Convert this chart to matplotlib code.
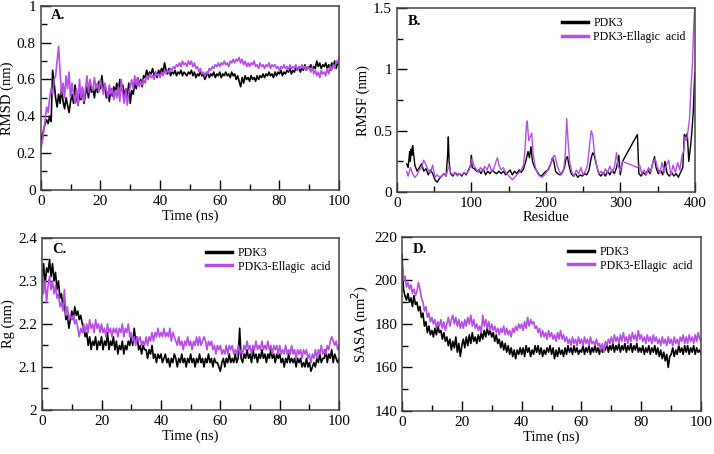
import numpy as np
import matplotlib
matplotlib.use('Agg')
import matplotlib.pyplot as plt
from matplotlib.ticker import MultipleLocator, FormatStrFormatter

plt.rcParams['font.family'] = ['Liberation Serif', 'DejaVu Serif']

# tiempo de simulacion (ns), paso de 0.5 ns
tiempo = np.arange(0, 100.5, 0.5)

rmsd_apo = [
    0.30, 0.27, 0.33, 0.36, 0.38, 0.36, 0.40, 0.37, 0.65, 0.58,
    0.50, 0.45, 0.52, 0.47, 0.55, 0.48, 0.44, 0.50, 0.46, 0.42,
    0.48, 0.52, 0.47, 0.57, 0.50, 0.46, 0.52, 0.49, 0.55, 0.47,
    0.52, 0.56, 0.50, 0.58, 0.53, 0.55, 0.50, 0.57, 0.53, 0.59,
    0.55, 0.62, 0.54, 0.57, 0.50, 0.53, 0.48, 0.55, 0.51, 0.56,
    0.53, 0.58, 0.52, 0.60, 0.54, 0.57, 0.51, 0.55, 0.50, 0.58,
    0.47, 0.54, 0.52, 0.58, 0.55, 0.61, 0.57, 0.60, 0.56, 0.62,
    0.61, 0.65, 0.62, 0.64, 0.63, 0.66, 0.62, 0.64, 0.61, 0.65,
    0.63, 0.66, 0.64, 0.69, 0.65, 0.63, 0.66, 0.62, 0.64, 0.63,
    0.65, 0.62, 0.64, 0.63, 0.65, 0.62, 0.64, 0.63, 0.62, 0.64,
    0.63, 0.65, 0.62, 0.64, 0.61, 0.63, 0.62, 0.64, 0.62, 0.63,
    0.60, 0.62, 0.64, 0.61, 0.63, 0.62, 0.64, 0.61, 0.63, 0.62,
    0.64, 0.61, 0.63, 0.62, 0.64, 0.62, 0.63, 0.61, 0.64, 0.62,
    0.63, 0.60, 0.62, 0.59, 0.56, 0.61, 0.58, 0.62, 0.60, 0.61,
    0.59, 0.62, 0.60, 0.61, 0.59, 0.62, 0.60, 0.62, 0.61, 0.63,
    0.61, 0.63, 0.62, 0.64, 0.62, 0.63, 0.61, 0.64, 0.62, 0.64,
    0.63, 0.65, 0.62, 0.64, 0.63, 0.65, 0.64, 0.66, 0.63, 0.65,
    0.64, 0.66, 0.65, 0.67, 0.64, 0.66, 0.65, 0.68, 0.65, 0.67,
    0.66, 0.68, 0.65, 0.67, 0.66, 0.70, 0.67, 0.69, 0.66, 0.68,
    0.67, 0.69, 0.66, 0.68, 0.65, 0.69, 0.67, 0.70, 0.66, 0.69,
    0.68]

rmsd_lig = [
    0.22, 0.26, 0.32, 0.38, 0.45, 0.42, 0.50, 0.55, 0.52, 0.60,
    0.62, 0.70, 0.78, 0.64, 0.52, 0.58, 0.50, 0.62, 0.55, 0.64,
    0.50, 0.58, 0.52, 0.47, 0.55, 0.46, 0.60, 0.50, 0.56, 0.48,
    0.55, 0.62, 0.53, 0.60, 0.56, 0.54, 0.61, 0.55, 0.58, 0.53,
    0.60, 0.56, 0.52, 0.58, 0.54, 0.50, 0.57, 0.52, 0.55, 0.49,
    0.54, 0.50, 0.56, 0.48, 0.60, 0.52, 0.47, 0.55, 0.46, 0.53,
    0.56, 0.60, 0.55, 0.62, 0.57, 0.61, 0.56, 0.59, 0.57, 0.60,
    0.58, 0.62, 0.60, 0.63, 0.61, 0.62, 0.60, 0.64, 0.62, 0.63,
    0.61, 0.64, 0.62, 0.65, 0.63, 0.65, 0.64, 0.66, 0.65, 0.67,
    0.66, 0.68, 0.67, 0.69, 0.67, 0.70, 0.68, 0.69, 0.67, 0.70,
    0.68, 0.70, 0.67, 0.69, 0.66, 0.67, 0.64, 0.66, 0.63, 0.64,
    0.62, 0.64, 0.63, 0.66, 0.65, 0.67, 0.66, 0.68, 0.67, 0.69,
    0.67, 0.69, 0.68, 0.70, 0.68, 0.69, 0.67, 0.70, 0.69, 0.71,
    0.69, 0.71, 0.70, 0.72, 0.69, 0.71, 0.68, 0.70, 0.67, 0.69,
    0.67, 0.69, 0.68, 0.70, 0.67, 0.68, 0.66, 0.69, 0.67, 0.68,
    0.66, 0.68, 0.67, 0.69, 0.66, 0.68, 0.67, 0.68, 0.66, 0.67,
    0.65, 0.67, 0.66, 0.68, 0.66, 0.67, 0.65, 0.68, 0.66, 0.67,
    0.66, 0.68, 0.65, 0.67, 0.66, 0.68, 0.66, 0.67, 0.65, 0.67,
    0.66, 0.64, 0.67, 0.63, 0.65, 0.62, 0.64, 0.61, 0.65, 0.63,
    0.64, 0.62, 0.66, 0.63, 0.67, 0.65, 0.68, 0.66, 0.70, 0.69,
    0.72]

rg_apo = [
    2.30, 2.34, 2.29, 2.33, 2.32, 2.35, 2.31, 2.34, 2.30, 2.32,
    2.28, 2.30, 2.26, 2.27, 2.24, 2.25, 2.21, 2.22, 2.19, 2.21,
    2.23, 2.21, 2.24, 2.22, 2.23, 2.21, 2.22, 2.20, 2.19, 2.17,
    2.18, 2.15, 2.17, 2.14, 2.16, 2.15, 2.17, 2.14, 2.16, 2.15,
    2.17, 2.14, 2.16, 2.15, 2.18, 2.14, 2.16, 2.15, 2.17, 2.14,
    2.16, 2.13, 2.15, 2.14, 2.16, 2.13, 2.15, 2.14, 2.16, 2.15,
    2.17, 2.15, 2.19, 2.16, 2.17, 2.14, 2.15, 2.13, 2.15, 2.14,
    2.14, 2.12, 2.14, 2.13, 2.15, 2.12, 2.13, 2.11, 2.13, 2.12,
    2.13, 2.11, 2.12, 2.13, 2.11, 2.12, 2.10, 2.12, 2.11, 2.13,
    2.12, 2.10, 2.12, 2.11, 2.13, 2.11, 2.12, 2.10, 2.12, 2.11,
    2.13, 2.11, 2.12, 2.10, 2.12, 2.11, 2.13, 2.11, 2.12, 2.10,
    2.12, 2.11, 2.13, 2.11, 2.12, 2.10, 2.12, 2.11, 2.11, 2.10,
    2.09, 2.11, 2.12, 2.10, 2.12, 2.11, 2.13, 2.11, 2.12, 2.11,
    2.13, 2.11, 2.12, 2.19, 2.12, 2.11, 2.13, 2.12, 2.14, 2.12,
    2.13, 2.11, 2.14, 2.12, 2.13, 2.11, 2.13, 2.12, 2.14, 2.12,
    2.13, 2.11, 2.13, 2.12, 2.14, 2.12, 2.13, 2.11, 2.13, 2.12,
    2.13, 2.11, 2.12, 2.10, 2.12, 2.11, 2.13, 2.11, 2.12, 2.11,
    2.12, 2.10, 2.12, 2.11, 2.12, 2.10, 2.11, 2.10, 2.12, 2.10,
    2.11, 2.09, 2.10, 2.11, 2.10, 2.12, 2.11, 2.13, 2.11, 2.12,
    2.12, 2.14, 2.11, 2.13, 2.12, 2.14, 2.11, 2.13, 2.12, 2.11,
    2.12]

rg_lig = [
    2.33, 2.27, 2.30, 2.25, 2.29, 2.31, 2.28, 2.30, 2.27, 2.29,
    2.26, 2.27, 2.24, 2.25, 2.23, 2.28, 2.22, 2.24, 2.21, 2.22,
    2.21, 2.22, 2.20, 2.21, 2.19, 2.17, 2.19, 2.18, 2.20, 2.18,
    2.20, 2.18, 2.21, 2.19, 2.20, 2.18, 2.21, 2.19, 2.20, 2.18,
    2.20, 2.18, 2.19, 2.17, 2.20, 2.18, 2.19, 2.17, 2.19, 2.18,
    2.19, 2.17, 2.19, 2.18, 2.20, 2.17, 2.19, 2.18, 2.20, 2.17,
    2.18, 2.16, 2.17, 2.15, 2.17, 2.16, 2.17, 2.15, 2.16, 2.15,
    2.17, 2.15, 2.17, 2.16, 2.18, 2.16, 2.18, 2.17, 2.19, 2.17,
    2.18, 2.17, 2.19, 2.17, 2.18, 2.17, 2.19, 2.16, 2.18, 2.17,
    2.16, 2.15, 2.17, 2.15, 2.16, 2.14, 2.16, 2.15, 2.17, 2.15,
    2.16, 2.14, 2.16, 2.15, 2.17, 2.15, 2.17, 2.15, 2.16, 2.17,
    2.16, 2.14, 2.16, 2.15, 2.16, 2.14, 2.15, 2.13, 2.15, 2.14,
    2.15, 2.13, 2.14, 2.13, 2.15, 2.13, 2.15, 2.14, 2.15, 2.13,
    2.14, 2.13, 2.15, 2.13, 2.14, 2.13, 2.15, 2.14, 2.16, 2.14,
    2.15, 2.13, 2.15, 2.14, 2.16, 2.14, 2.15, 2.14, 2.16, 2.14,
    2.15, 2.14, 2.16, 2.14, 2.15, 2.13, 2.15, 2.14, 2.15, 2.13,
    2.15, 2.13, 2.14, 2.13, 2.15, 2.13, 2.14, 2.13, 2.15, 2.13,
    2.14, 2.12, 2.14, 2.13, 2.14, 2.12, 2.14, 2.13, 2.14, 2.12,
    2.13, 2.11, 2.13, 2.12, 2.14, 2.12, 2.14, 2.13, 2.15, 2.13,
    2.14, 2.13, 2.15, 2.14, 2.16, 2.17, 2.16, 2.15, 2.16, 2.14,
    2.15]

sasa_apo = [
    212, 196, 193, 191, 194, 190, 192, 188, 193, 189,
    190, 186, 188, 183, 185, 179, 181, 176, 179, 175,
    177, 174, 178, 175, 179, 176, 177, 173, 176, 172,
    174, 170, 173, 168, 172, 169, 174, 167, 171, 165,
    170, 173, 169, 174, 170, 175, 171, 176, 172, 174,
    171, 175, 172, 176, 173, 177, 174, 178, 175, 177,
    174, 176, 172, 175, 171, 173, 169, 172, 168, 171,
    167, 170, 166, 169, 165, 168, 164, 168, 166, 169,
    166, 169, 165, 170, 167, 169, 165, 168, 166, 170,
    167, 170, 166, 169, 165, 168, 166, 169, 167, 170,
    166, 169, 164, 168, 165, 169, 166, 168, 165, 169,
    166, 170, 167, 169, 166, 170, 167, 169, 166, 168,
    167, 170, 166, 169, 167, 170, 166, 169, 167, 170,
    167, 169, 166, 170, 167, 169, 168, 171, 167, 170,
    168, 171, 167, 170, 168, 171, 167, 170, 168, 171,
    167, 170, 168, 171, 167, 170, 168, 171, 167, 169,
    167, 170, 166, 169, 167, 170, 166, 169, 167, 170,
    166, 169, 165, 168, 164, 167, 163, 166, 160, 165,
    166, 169, 165, 168, 166, 170, 167, 169, 166, 170,
    167, 170, 166, 169, 167, 170, 166, 169, 167, 168,
    166]

sasa_lig = [
    208, 200, 202, 197, 199, 196, 198, 194, 196, 193,
    195, 199, 196, 192, 190, 186, 188, 183, 185, 181,
    183, 180, 182, 178, 181, 179, 182, 178, 181, 177,
    180, 183, 179, 182, 184, 180, 183, 179, 182, 178,
    181, 178, 182, 179, 183, 180, 184, 179, 182, 178,
    180, 177, 179, 176, 184, 179, 182, 178, 181, 177,
    180, 177, 179, 176, 178, 175, 178, 176, 179, 175,
    178, 175, 177, 174, 178, 176, 179, 177, 180, 178,
    180, 177, 181, 178, 183, 179, 182, 180, 181, 178,
    179, 176, 178, 174, 177, 174, 176, 173, 177, 174,
    176, 173, 175, 172, 176, 173, 177, 173, 175, 172,
    174, 171, 173, 170, 174, 171, 173, 170, 174, 171,
    173, 170, 174, 171, 173, 170, 174, 171, 172, 170,
    173, 170, 171, 168, 171, 167, 172, 170, 173, 171,
    174, 171, 175, 172, 174, 171, 175, 172, 176, 172,
    174, 171, 175, 172, 176, 173, 175, 172, 177, 173,
    175, 172, 174, 171, 175, 172, 174, 171, 175, 172,
    174, 171, 173, 170, 174, 171, 173, 170, 174, 171,
    173, 170, 174, 171, 173, 170, 174, 172, 175, 171,
    174, 171, 175, 172, 174, 171, 175, 172, 176, 173,
    172]

# RMSF por residuo
res_apo = [13, 15, 17, 18, 19, 20, 21, 22, 24, 27,
           30, 33, 36, 39, 42, 45, 48, 51, 54, 57,
           60, 63, 66, 68, 69, 70, 72, 75, 78, 81,
           84, 87, 90, 93, 96, 99, 100, 101, 104, 107,
           110, 113, 116, 119, 122, 125, 128, 131, 134, 137,
           140, 143, 146, 149, 152, 155, 158, 161, 164, 167,
           170, 173, 176, 178, 180, 182, 185, 188, 191, 194,
           197, 200, 203, 206, 209, 211, 213, 216, 219, 222,
           225, 227, 229, 231, 234, 237, 240, 243, 246, 249,
           252, 255, 258, 261, 263, 265, 268, 271, 274, 277,
           280, 283, 286, 289, 292, 295, 298, 300, 303, 323,
           325, 328, 331, 334, 337, 340, 343, 346, 348, 351,
           354, 357, 360, 363, 366, 369, 372, 375, 378, 381,
           384, 386, 388, 390, 392, 394, 396, 398, 400]
rmsf_apo = [0.23, 0.20, 0.33, 0.25, 0.35, 0.30, 0.38, 0.33, 0.22, 0.17,
            0.20, 0.23, 0.17, 0.19, 0.14, 0.18, 0.15, 0.10, 0.08, 0.11,
            0.13, 0.15, 0.13, 0.30, 0.45, 0.25, 0.15, 0.13, 0.16, 0.14,
            0.15, 0.13, 0.16, 0.14, 0.18, 0.22, 0.30, 0.20, 0.19, 0.17,
            0.18, 0.15, 0.19, 0.14, 0.17, 0.15, 0.18, 0.16, 0.15, 0.17,
            0.15, 0.17, 0.14, 0.16, 0.18, 0.14, 0.17, 0.15, 0.18, 0.16,
            0.19, 0.25, 0.33, 0.28, 0.37, 0.25, 0.20, 0.17, 0.14, 0.13,
            0.15, 0.17, 0.18, 0.22, 0.28, 0.24, 0.17, 0.15, 0.14, 0.16,
            0.20, 0.27, 0.29, 0.22, 0.15, 0.13, 0.15, 0.12, 0.14, 0.13,
            0.15, 0.14, 0.18, 0.28, 0.32, 0.30, 0.22, 0.15, 0.13, 0.16,
            0.13, 0.17, 0.14, 0.18, 0.15, 0.20, 0.30, 0.14, 0.25, 0.47,
            0.15, 0.13, 0.16, 0.14, 0.18, 0.15, 0.22, 0.29, 0.20, 0.15,
            0.18, 0.14, 0.25, 0.15, 0.13, 0.16, 0.13, 0.15, 0.12, 0.16,
            0.20, 0.47, 0.45, 0.48, 0.25, 0.35, 0.48, 0.65, 0.97]

res_lig = [13, 15, 18, 21, 24, 27, 30, 33, 36, 39,
           42, 45, 48, 51, 54, 57, 60, 63, 66, 68,
           70, 72, 75, 78, 81, 84, 87, 90, 93, 96,
           99, 101, 103, 106, 109, 112, 115, 118, 121, 124,
           127, 130, 133, 135, 137, 140, 143, 146, 149, 152,
           155, 158, 161, 164, 167, 170, 172, 174, 175, 177,
           179, 181, 183, 186, 189, 192, 195, 198, 201, 204,
           207, 210, 212, 215, 218, 221, 224, 226, 228, 230,
           232, 235, 238, 241, 244, 247, 250, 253, 256, 259,
           261, 263, 265, 268, 271, 274, 277, 280, 283, 286,
           289, 292, 295, 297, 300, 303, 323, 326, 329, 332,
           335, 338, 341, 344, 347, 350, 353, 356, 359, 362,
           365, 368, 371, 374, 377, 380, 383, 385, 387, 389,
           391, 393, 395, 397, 398, 399, 400]
rmsf_lig = [0.17, 0.13, 0.20, 0.15, 0.12, 0.14, 0.18, 0.20, 0.26, 0.22,
            0.18, 0.16, 0.22, 0.12, 0.14, 0.12, 0.13, 0.15, 0.13, 0.18,
            0.21, 0.16, 0.14, 0.16, 0.13, 0.15, 0.14, 0.16, 0.15, 0.17,
            0.22, 0.27, 0.22, 0.19, 0.16, 0.20, 0.17, 0.21, 0.18, 0.23,
            0.17, 0.19, 0.25, 0.28, 0.22, 0.18, 0.20, 0.16, 0.14, 0.12,
            0.10, 0.12, 0.14, 0.16, 0.18, 0.22, 0.35, 0.55, 0.58, 0.42,
            0.45, 0.48, 0.30, 0.20, 0.15, 0.13, 0.12, 0.14, 0.16, 0.20,
            0.24, 0.29, 0.30, 0.22, 0.17, 0.14, 0.18, 0.30, 0.60, 0.40,
            0.25, 0.16, 0.13, 0.18, 0.15, 0.20, 0.14, 0.17, 0.22, 0.40,
            0.50, 0.46, 0.33, 0.22, 0.15, 0.17, 0.14, 0.19, 0.16, 0.21,
            0.16, 0.20, 0.32, 0.22, 0.17, 0.25, 0.20, 0.22, 0.15, 0.18,
            0.14, 0.20, 0.16, 0.25, 0.27, 0.20, 0.15, 0.24, 0.16, 0.22,
            0.26, 0.14, 0.22, 0.16, 0.24, 0.18, 0.30, 0.33, 0.45, 0.42,
            0.50, 0.60, 0.85, 1.05, 1.25, 1.40, 1.50]

NEGRO = '#000000'
MORADO = '#b54ee6'
etiquetas = ['PDK3', 'PDK3-Ellagic  acid']


def formato_ejes(ax, xlim, xmaj, xmin, ylim, ymaj, ymin, yfmt):
    ax.set_xlim(*xlim)
    ax.set_ylim(*ylim)
    ax.xaxis.set_major_locator(MultipleLocator(xmaj))
    ax.xaxis.set_minor_locator(MultipleLocator(xmin))
    ax.yaxis.set_major_locator(MultipleLocator(ymaj))
    ax.yaxis.set_minor_locator(MultipleLocator(ymin))
    ax.yaxis.set_major_formatter(FormatStrFormatter(yfmt))
    ax.tick_params(which='both', direction='in', top=False, right=False, labelsize=11)
    ax.tick_params(which='major', length=7, width=1)
    ax.tick_params(which='minor', length=4, width=1)
    for s in ax.spines.values():
        s.set_color('#444444')
        s.set_linewidth(1.1)


def leyenda(ax):
    ax.legend(etiquetas, loc='upper right', frameon=False, fontsize=8.5,
              handlelength=2.2, borderaxespad=0.35, labelspacing=0.15,
              handletextpad=0.5)
    for h in ax.get_legend().get_lines():
        h.set_linewidth(2.5)


fig = plt.figure(figsize=(7.14, 4.54), dpi=100)
ETQ = 10.5

# A. RMSD
axA = fig.add_axes([0.057, 0.582, 0.418, 0.405])
axA.plot(tiempo, rmsd_apo, color=NEGRO, lw=1.2)
axA.plot(tiempo, rmsd_lig, color=MORADO, lw=1.2)
formato_ejes(axA, (0, 100), 20, 10, (0, 1), 0.2, 0.1, '%g')
axA.set_xlabel('Time (ns)', fontsize=ETQ, labelpad=1)
axA.set_ylabel('RMSD (nm)', fontsize=ETQ, labelpad=2)
axA.text(0.035, 0.93, 'A.', transform=axA.transAxes, fontsize=10.5, fontweight='bold')

# B. RMSF
axB = fig.add_axes([0.556, 0.577, 0.417, 0.405])
axB.plot(res_apo, rmsf_apo, color=NEGRO, lw=1.0)
axB.plot(res_lig, rmsf_lig, color=MORADO, lw=1.0)
formato_ejes(axB, (0, 400), 100, 50, (0, 1.5), 0.5, 0.25, '%g')
axB.set_xlabel('Residue', fontsize=ETQ, labelpad=1)
axB.set_ylabel('RMSF (nm)', fontsize=ETQ, labelpad=2)
axB.text(0.035, 0.91, 'B.', transform=axB.transAxes, fontsize=10.5, fontweight='bold')
leyenda(axB)

# C. Rg
axC = fig.add_axes([0.059, 0.097, 0.416, 0.379])
axC.plot(tiempo, rg_apo, color=NEGRO, lw=1.2)
axC.plot(tiempo, rg_lig, color=MORADO, lw=1.2)
formato_ejes(axC, (0, 100), 20, 10, (2, 2.4), 0.1, 0.05, '%g')
axC.set_xlabel('Time (ns)', fontsize=ETQ, labelpad=1)
axC.set_ylabel('Rg (nm)', fontsize=ETQ, labelpad=2)
axC.text(0.035, 0.91, 'C.', transform=axC.transAxes, fontsize=10.5, fontweight='bold')
leyenda(axC)

# D. SASA
axD = fig.add_axes([0.563, 0.095, 0.419, 0.383])
axD.plot(tiempo, sasa_apo, color=NEGRO, lw=1.2)
axD.plot(tiempo, sasa_lig, color=MORADO, lw=1.2)
formato_ejes(axD, (0, 100), 20, 10, (140, 220), 20, 10, '%g')
axD.set_xlabel('Time (ns)', fontsize=ETQ, labelpad=1)
axD.set_ylabel('SASA (nm$^2$)', fontsize=ETQ, labelpad=2)
axD.text(0.035, 0.91, 'D.', transform=axD.transAxes, fontsize=10.5, fontweight='bold')
leyenda(axD)

fig.savefig('out.png', dpi=100)
